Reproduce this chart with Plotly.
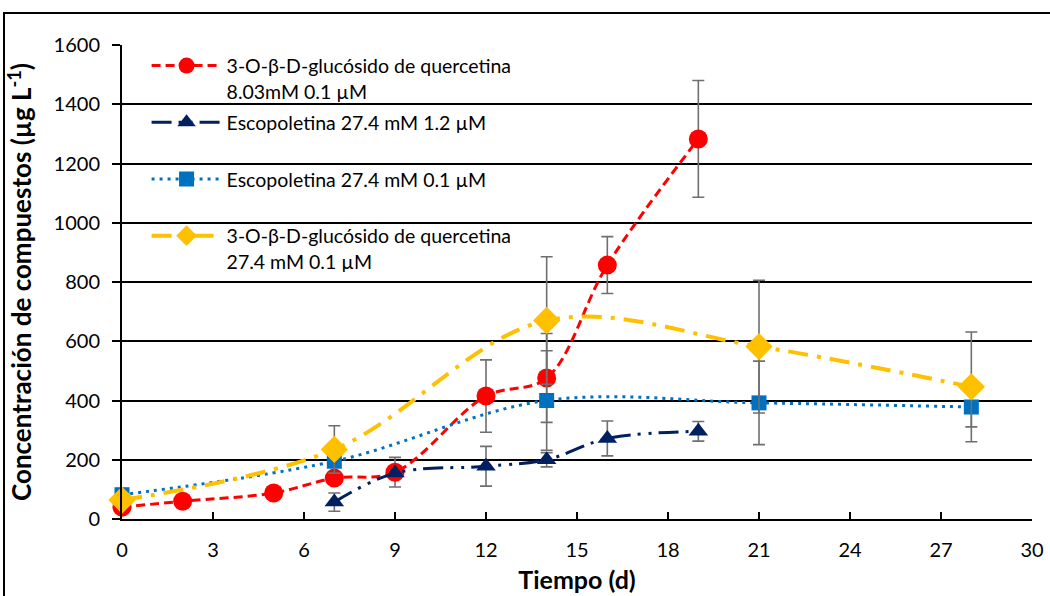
import plotly.graph_objects as go

# Data
x_q803 = [0, 2, 5, 7, 9, 12, 14, 16, 19]
y_q803 = [40, 60, 88, 138, 158, 415, 476, 857, 1283]
e_q803 = [0, 0, 0, 0, 50, 122, 150, 96, 197]

x_esc12 = [7, 9, 12, 14, 16, 19]
y_esc12 = [57, 155, 178, 200, 272, 296]
e_esc12 = [31, 0, 67, 24, 59, 33]

x_esc01 = [0, 7, 14, 21, 28]
y_esc01 = [82, 195, 400, 392, 378]
e_esc01 = [0, 0, 168, 141, 67]

x_q274 = [0, 7, 14, 21, 28]
y_q274 = [64, 235, 670, 582, 446]
e_q274 = [0, 80, 215, 224, 185]

names = [
    "3-O-β-D-glucósido de quercetina<br>8.03mM 0.1 µM",
    "Escopoletina 27.4 mM 1.2 µM<br>\u00a0",
    "Escopoletina 27.4 mM 0.1 µM<br>\u00a0",
    "3-O-β-D-glucósido de quercetina<br>27.4 mM 0.1 µM",
]

FONT = "Lato"
ERR = dict(type="data", symmetric=True, color="#6f6f6f", thickness=1.6, width=6)

fig = go.Figure()

fig.add_trace(go.Scatter(
    x=x_q803, y=y_q803, name=names[0], mode="lines+markers",
    line=dict(color="#FF0000", width=3, dash="9px,5px", shape="spline", smoothing=1),
    marker=dict(symbol="circle", size=19, color="#FF0000"),
    error_y=dict(array=e_q803, **ERR), cliponaxis=False, legendgroup="a"))

fig.add_trace(go.Scatter(
    x=x_esc12, y=y_esc12, name=names[1], mode="lines+markers",
    line=dict(color="#002060", width=3, dash="20px,7px,3px,8px,3px,7px", shape="spline", smoothing=1),
    marker=dict(symbol="triangle-up", size=17, color="#002060"),
    error_y=dict(array=e_esc12, **ERR), cliponaxis=False, legendgroup="b"))

fig.add_trace(go.Scatter(
    x=x_esc01, y=y_esc01, name=names[2], mode="lines+markers",
    line=dict(color="#0070C0", width=3, dash="3px,5px", shape="spline", smoothing=1),
    marker=dict(symbol="square", size=15, color="#0070C0"),
    error_y=dict(array=e_esc01, **ERR), cliponaxis=False, legendgroup="c"))

fig.add_trace(go.Scatter(
    x=x_q274, y=y_q274, name=names[3], mode="lines+markers",
    line=dict(color="#FFC000", width=4, dash="20px,9px,4px,9px", shape="spline", smoothing=1),
    marker=dict(symbol="diamond", size=21, color="#FFC000"),
    error_y=dict(array=e_q274, **ERR), cliponaxis=False, legendgroup="d"))

L, R, T, B = 122, 18, 45, 77
W, H = 1050, 596
pw, ph = W - L - R, H - T - B

def px_x(p):
    return (p - L) / pw

def px_y(p):
    return (H - B - p) / ph

fig.update_layout(
    width=W, height=H,
    margin=dict(l=L, r=R, t=T, b=B, autoexpand=False),
    paper_bgcolor="white", plot_bgcolor="white",
    font=dict(family=FONT, size=19, color="black"),
    showlegend=True,
    legend=dict(
        x=0.027, y=0.997, xanchor="left", yanchor="top",
        bgcolor="rgba(0,0,0,0)", font=dict(family=FONT, size=19.5, color="black"),
        itemwidth=70, valign="top", traceorder="grouped", tracegroupgap=3,
    ),
    xaxis=dict(
        range=[0, 30], dtick=3, tick0=0, ticks="inside", ticklen=7, tickwidth=1.5,
        tickcolor="black", showline=True, linecolor="black", linewidth=2,
        showgrid=False, zeroline=False, ticklabelstandoff=12, automargin=False,
        tickfont=dict(family=FONT, size=20),
        title=dict(text="<b>Tiempo (d)</b>", font=dict(family=FONT, size=25), standoff=11),
    ),
    yaxis=dict(
        range=[0, 1600], dtick=200, tick0=0, ticks="outside", ticklen=8, tickwidth=1.5,
        tickcolor="black", showline=True, linecolor="black", linewidth=2,
        showgrid=True, gridcolor="black", gridwidth=1.5, zeroline=False,
        ticklabelstandoff=8, automargin=False,
        tickfont=dict(family=FONT, size=20),
        title=dict(text="<b>Concentración de compuestos (µg L<sup>-1</sup>)</b>",
                   font=dict(family=FONT, size=26), standoff=14),
    ),
    shapes=[dict(type="rect", xref="paper", yref="paper",
                 x0=px_x(4), x1=px_x(1056), y0=px_y(602), y1=px_y(13),
                 line=dict(color="black", width=2), layer="below")],
)

fig.write_html("out.html")
